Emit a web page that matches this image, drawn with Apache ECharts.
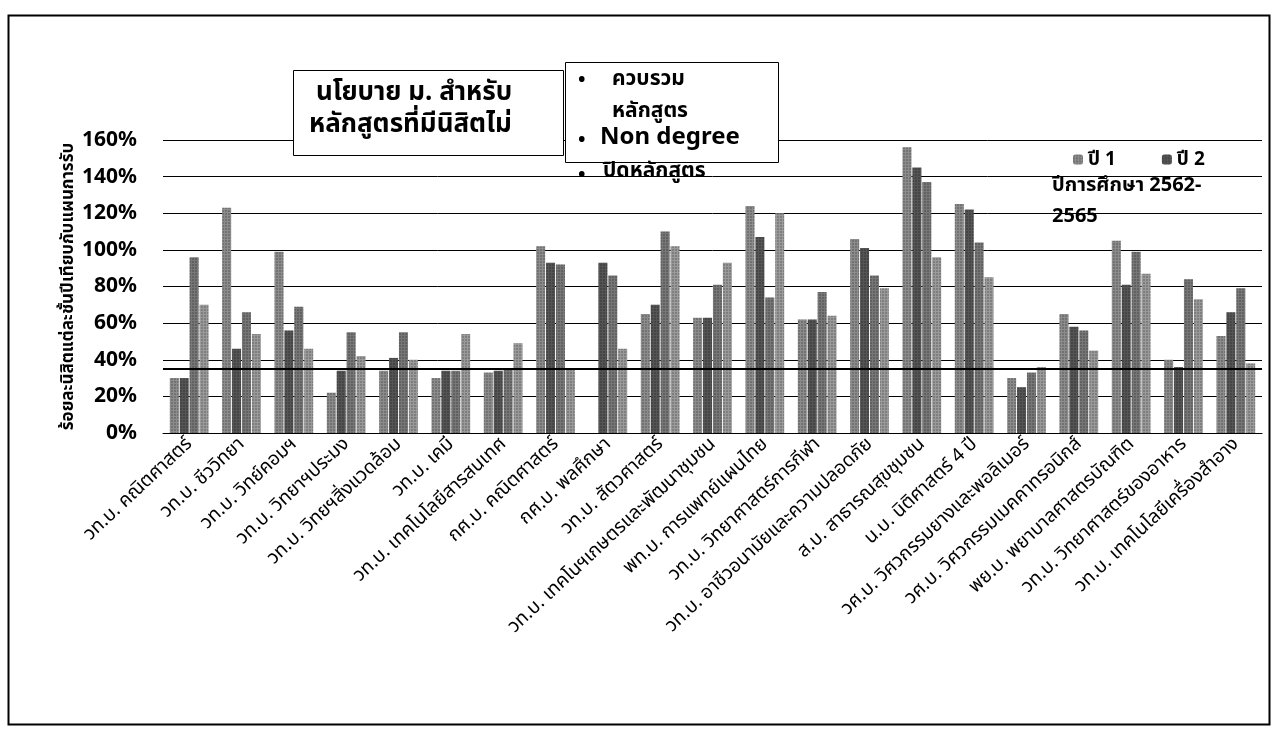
<!DOCTYPE html>
<html>
<head>
<meta charset="utf-8">
<script src="https://cdn.jsdelivr.net/npm/echarts@6/dist/echarts.min.js"></script>
<style>
  html, body { margin: 0; padding: 0; background: #fff; }
  #chart { width: 1273px; height: 730px; }
</style>
</head>
<body>
<div id="chart"></div>
<script>
// หลักสูตร
var categories = [
  'วท.บ. คณิตศาสตร์', 'วท.บ. ชีววิทยา', 'วท.บ. วิทย์คอมฯ', 'วท.บ. วิทยาฯประมง',
  'วท.บ. วิทยฯสิ่งแวดล้อม', 'วท.บ. เคมี', 'วท.บ. เทคโนโลยีสารสนเทศ', 'กศ.บ. คณิตศาสตร์',
  'กศ.บ. พลศึกษา', 'วท.บ. สัตวศาสตร์', 'วท.บ. เทคโนฯเกษตรและพัฒนาชุมชน', 'พท.บ. การแพทย์แผนไทย',
  'วท.บ. วิทยาศาสตร์การกีฬา', 'วท.บ. อาชีวอนามัยและความปลอดภัย', 'ส.บ. สาธารณสุขชุมชน', 'น.บ. นิติศาสตร์ 4 ปี',
  'วศ.บ. วิศวกรรมยางและพอลิเมอร์', 'วศ.บ. วิศวกรรมเมคคาทรอนิกส์', 'พย.บ. พยาบาลศาสตรบัณฑิต',
  'วท.บ. วิทยาศาสตร์ของอาหาร', 'วท.บ. เทคโนโลยีเครื่องสำอาง'
];
// ร้อยละ (%)
var year1 = [30, 123, 99, 22, 34, 30, 33, 102, 0, 65, 63, 124, 62, 106, 156, 125, 30, 65, 105, 40, 53];
var year2 = [30, 46, 56, 34, 41, 34, 34, 93, 93, 70, 63, 107, 62, 101, 145, 122, 25, 58, 81, 36, 66];
var year3 = [96, 66, 69, 55, 55, 34, 35, 92, 86, 110, 81, 74, 77, 86, 137, 104, 33, 56, 99, 84, 79];
var year4 = [70, 54, 46, 42, 40, 54, 49, 35, 46, 102, 93, 120, 64, 79, 96, 85, 36, 45, 87, 73, 38];
var yTicks = [0, 20, 40, 60, 80, 100, 120, 140, 160];
var threshold = 35;

var chart = echarts.init(document.getElementById('chart'));
var thai = '"Noto Sans", "Noto Sans Thai", Tahoma, sans-serif';

function barSeries(name, data, color) {
  return {
    name: name,
    type: 'bar',
    data: data,
    barWidth: 9,
    barGap: '10%',
    itemStyle: {
      color: color,
      decal: { symbol: 'rect', symbolSize: 0.6, dashArrayX: [2, 1], dashArrayY: [2, 1], color: 'rgba(0,0,0,0.6)' }
    }
  };
}

var series = [
  barSeries('ปี 1', year1, '#8c8c8c'),
  barSeries('ปี 2', year2, '#555555'),
  barSeries('ปี 3', year3, '#777777'),
  barSeries('ปี 4', year4, '#9a9a9a')
];
series[0].markLine = {
  symbol: 'none',
  silent: true,
  label: { show: false },
  lineStyle: { color: '#000', width: 2, type: 'solid' },
  data: [{ yAxis: threshold }]
};

var option = {
  animation: false,
  backgroundColor: '#fff',
  textStyle: { fontFamily: thai },
  grid: { left: 163, right: 11, top: 140, bottom: 297 },
  legend: {
    data: ['ปี 1', 'ปี 2'],
    left: 1068,
    top: 145,
    itemWidth: 10,
    itemHeight: 10,
    itemGap: 46,
    textStyle: { fontSize: 19, fontWeight: 'bold', color: '#000', fontFamily: thai }
  },
  xAxis: {
    type: 'category',
    data: categories,
    axisLine: { lineStyle: { color: '#000', width: 1 } },
    axisTick: { show: false },
    axisLabel: {
      interval: 0,
      rotate: 43,
      fontSize: 19,
      color: '#000',
      margin: 8,
      fontFamily: thai
    }
  },
  yAxis: {
    type: 'value',
    min: 0,
    max: 160,
    interval: 20,
    name: 'ร้อยละนิสิตแต่ละชั้นปีเทียบกับแผนการรับ',
    nameLocation: 'middle',
    nameRotate: 90,
    nameGap: 86,
    nameMoveOverlap: false,
    nameTextStyle: { fontSize: 17, fontWeight: 'bold', color: '#000', fontFamily: thai },
    axisLine: { show: false },
    axisTick: { show: false },
    splitLine: { lineStyle: { color: '#000', width: 1 } },
    axisLabel: {
      formatter: function (v) { return yTicks.indexOf(v) >= 0 ? v + '%' : ''; },
      fontSize: 21,
      fontWeight: 'bold',
      color: '#000',
      margin: 26,
      fontFamily: thai
    }
  },
  graphic: [
    { type: 'rect', left: 6, top: 13, shape: { width: 1261, height: 709 },
      style: { fill: 'none', stroke: '#000', lineWidth: 2 }, z: 100 },
    { type: 'rect', left: 293, top: 70, shape: { width: 270, height: 85 },
      style: { fill: '#fff', stroke: '#000', lineWidth: 1 }, z: 100 },
    { type: 'text', left: 316, top: 80, z: 101,
      style: { text: 'นโยบาย ม. สำหรับ', fill: '#000', font: 'bold 26px ' + thai } },
    { type: 'text', left: 309, top: 112, z: 101,
      style: { text: 'หลักสูตรที่มีนิสิตไม่', fill: '#000', font: 'bold 26px ' + thai } },
    { type: 'rect', left: 565, top: 62, shape: { width: 213, height: 100 },
      style: { fill: '#fff', stroke: '#000', lineWidth: 1 }, z: 100 },
    { type: 'text', left: 578, top: 70, z: 101,
      style: { text: '•', fill: '#000', font: 'bold 20px ' + thai } },
    { type: 'text', left: 612, top: 63, z: 101,
      style: { text: 'ควบรวม\nหลักสูตร', fill: '#000', font: 'bold 21px ' + thai, lineHeight: 32 } },
    { type: 'text', left: 578, top: 130, z: 101,
      style: { text: '•', fill: '#000', font: 'bold 20px ' + thai } },
    { type: 'text', left: 600, top: 125, z: 101,
      style: { text: 'Non degree', fill: '#000', font: 'bold 24px ' + thai } },
    { type: 'text', left: 578, top: 165, z: 101,
      style: { text: '•', fill: '#000', font: 'bold 20px ' + thai } },
    { type: 'text', left: 603, top: 161, z: 101,
      style: { text: 'ปิดหลักสูตร', fill: '#000', font: 'bold 21px ' + thai } },
    { type: 'text', left: 1052, top: 170, z: 101,
      style: { text: 'ปีการศึกษา 2562-\n2565', fill: '#000', font: 'bold 20px ' + thai, lineHeight: 31 } }
  ],
  series: series
};

chart.setOption(option);
</script>
</body>
</html>
